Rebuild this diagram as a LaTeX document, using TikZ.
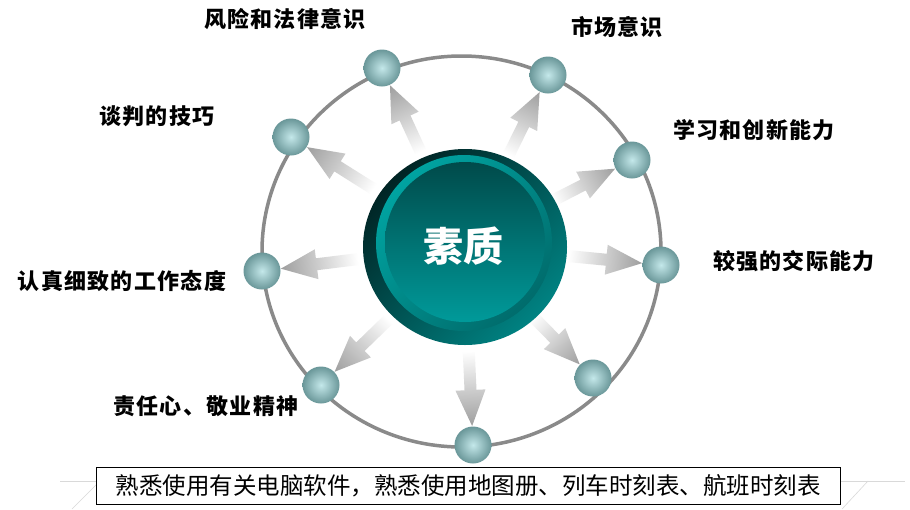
\documentclass[tikz,border=0pt]{standalone}
\usepackage{fontspec}
\newfontfamily\cjk{Noto Sans CJK SC}
\newfontfamily\cjkl[LetterSpace=6]{Noto Sans CJK SC}
\definecolor{ringgray}{HTML}{8A8A8A}
\definecolor{ballin}{HTML}{C4E8EA}
\definecolor{ballout}{HTML}{6A9799}
\definecolor{odark}{HTML}{002424}
\definecolor{oteal}{HTML}{008282}
\definecolor{rtop}{HTML}{00A3A1}
\definecolor{rbot}{HTML}{006C6C}
\definecolor{dtop}{HTML}{004A4A}
\definecolor{dbot}{HTML}{009A9A}
\definecolor{arrgray}{HTML}{9E9E9E}
\pgfdeclarehorizontalshading{arrshade}{100bp}{color(0bp)=(white); color(25bp)=(white); color(45bp)=(white); color(75bp)=(arrgray); color(100bp)=(arrgray)}
\begin{document}
\begin{tikzpicture}[x=1pt,y=-1pt,
  lab/.style={font=\cjkl\bfseries\fontsize{22}{24}\selectfont, text=black, inner sep=0pt},
  ball/.style={circle, minimum size=37pt, inner sep=0pt, shading=radial, inner color=ballin, outer color=ballout},
  arr/.style={shading=arrshade},
  floor/.style={gray!30, line width=0.6pt}]
\useasboundingbox (0,0) rectangle (910,509);
\fill[white] (0,0) rectangle (910,509);
% faint floor lines
\draw[floor] (60,481) -- (905,481);
\draw[floor] (72,509) -- (100,481);
\draw[floor] (842,509) -- (868,481);
% big ring
\draw[ringgray, line width=3.5pt] (461.5,251.5) ellipse [x radius=199.5, y radius=195.5];
% positions
\coordinate (c0) at (464,246);
\coordinate (p1) at (382,68);
\coordinate (p2) at (291,137);
\coordinate (p3) at (548,75);
\coordinate (p4) at (632,160);
\coordinate (p5) at (661,265);
\coordinate (p6) at (262,271);
\coordinate (p7) at (321,385);
\coordinate (p8) at (593,378);
\coordinate (p9) at (473,445);
% arrows
\foreach \i in {1,...,9}{
  \path (p\i); \pgfgetlastxy{\bx}{\by}
  \path (c0); \pgfgetlastxy{\cx}{\cy}
  \pgfmathsetmacro\ang{atan2(\by-\cy,\bx-\cx)}
  \pgfmathsetmacro\len{veclen(\bx-\cx,\by-\cy)-19}
  \pgfmathsetmacro\hb{\len-36}
  \begin{scope}[transform canvas={shift={(c0)}, rotate=\ang}]
    \shade[arr] (55,-6) -- (\hb,-6) -- (\hb,-15) -- (\len,0) -- (\hb,15) -- (\hb,6) -- (55,6) -- cycle;
  \end{scope}
}
% centre disc
\shade[top color=odark, bottom color=oteal, shading angle=45] (465,247) ellipse [x radius=102, y radius=98];
\shade[top color=rtop, bottom color=rbot, shading angle=45] (464,243) circle [radius=88];
\shade[top color=dtop, bottom color=dbot] (465,242) circle [radius=80];
\node[font=\cjk\bfseries\fontsize{40}{44}\selectfont, text=white, inner sep=0pt] (c) at (463,246) {素质};
% small balls
\foreach \i in {1,...,9}{
  \node[ball] (b\i) at (p\i) {};
}
% labels
\node[lab] (l1) at (285,19) {风险和法律意识};
\node[lab] (l3) at (617,27) {市场意识};
\node[lab] (l2) at (157,116) {谈判的技巧};
\node[lab] (l4) at (754,130) {学习和创新能力};
\node[lab] (l5) at (794,261) {较强的交际能力};
\node[lab] (l6) at (122,281) {认真细致的工作态度};
\node[lab] (l7) at (206,406) {责任心、敬业精神};
% bottom box
\node[draw=black, line width=1pt, fill=white, minimum width=744pt, minimum height=37pt, inner sep=0pt,
  font=\cjk\fontsize{23.5}{26}\selectfont] (box) at (468,486) {熟悉使用有关电脑软件，熟悉使用地图册、列车时刻表、航班时刻表};
\end{tikzpicture}
\end{document}
